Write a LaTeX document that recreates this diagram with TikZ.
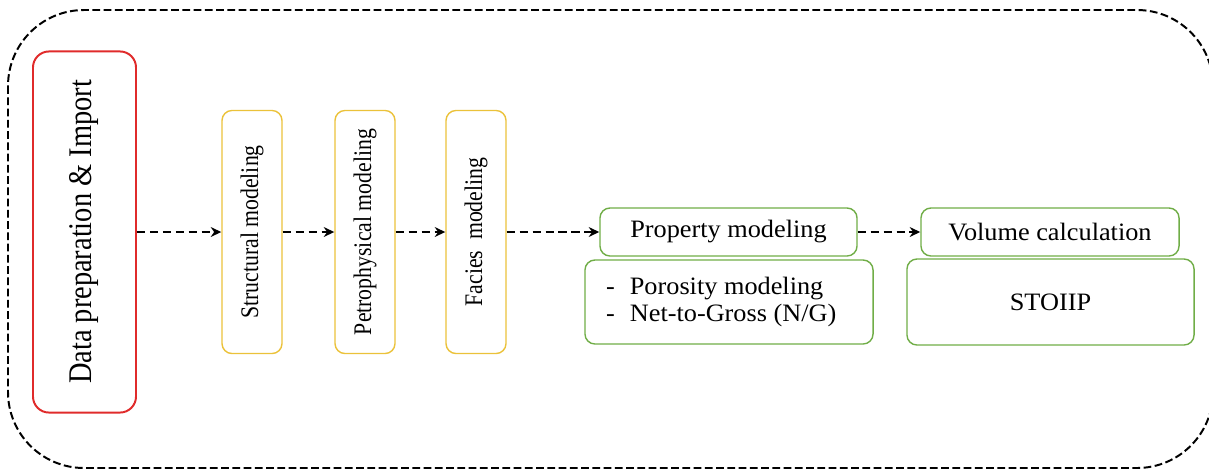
\documentclass[tikz,border=0pt]{standalone}
\usepackage{fontspec}
\setmainfont{Liberation Serif}
\newfontfamily\tallserif[FakeStretch=0.86]{Liberation Serif}
\newfontfamily\wideserif[FakeStretch=1.05]{Liberation Serif}
\usetikzlibrary{arrows.meta}
\definecolor{boxred}{HTML}{E02B2B}
\definecolor{boxyellow}{HTML}{EBC23A}
\definecolor{boxgreen}{HTML}{70AD47}
\tikzset{
	databox/.style={draw=boxred, line width=1.4pt, rounded corners=0.4cm, rotate=90,
		minimum width=9.025cm, minimum height=2.575cm, font=\tallserif\fontsize{23.5}{25}\selectfont},
	stepbox/.style={draw=boxyellow, line width=1pt, rounded corners=0.25cm, rotate=90,
		minimum width=6.075cm, minimum height=1.5cm, font=\tallserif\fontsize{18}{20}\selectfont},
	propbox/.style={draw=boxgreen, line width=1pt, rounded corners=0.25cm,
		font=\wideserif\fontsize{17.8}{19}\selectfont},
	flow/.style={line width=1.8pt, dash pattern=on 6pt off 3.2pt, -{Stealth[length=7.5pt,width=7pt]}},
}
\begin{document}
\begin{tikzpicture}[x=0.025cm, y=-0.025cm]
	\useasboundingbox (0,0) rectangle (1209,470);
	\clip (0,0) rectangle (1209,470);

	%frame
	\draw[line width=1.4pt, dash pattern=on 5.5pt off 2.5pt, rounded corners=1.9cm]
		(8,10) rectangle (1213,468);

	%data
	\node[databox](data) at (84.5,232) {Data preparation \& Import};

	%modeling steps
	\node[stepbox](struct) at (252,232) {Structural modeling};
	\node[stepbox](petro) at (365,232) {Petrophysical modeling};
	\node[stepbox](facies) at (476,232) {Facies\ \ modeling};

	%property
	\node[propbox, minimum width=6.425cm, minimum height=1.2cm](prop) at (728.5,232)
	{Property modeling};
	\node[propbox, minimum width=7.2cm, minimum height=2.1cm, align=left](poro) at (729,302)
	{-\hspace{0.6em}Porosity modeling\\-\hspace{0.6em}Net-to-Gross (N/G)\hspace*{11pt}};

	%volume
	\node[propbox, minimum width=6.45cm, minimum height=1.2cm](vol) at (1050,232)
	{Volume calculation};
	\node[propbox, minimum width=7.175cm, minimum height=2.15cm](stoiip) at (1050.5,302)
	{STOIIP};

	%arrows
	\draw[flow] (data) -- (struct);
	\draw[flow] (struct) -- (petro);
	\draw[flow] (petro) -- (facies);
	\draw[flow] (facies) -- (prop);
	\draw[flow] (prop) -- (vol);

\end{tikzpicture}
\end{document}
